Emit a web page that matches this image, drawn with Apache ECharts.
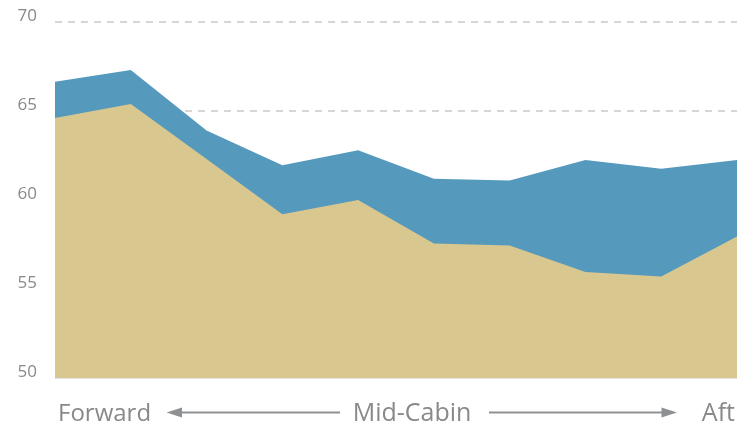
<!DOCTYPE html>
<html>
<head>
<meta charset="utf-8">
<script src="https://cdn.jsdelivr.net/npm/echarts@6/dist/echarts.min.js"></script>
<style>
html,body{margin:0;padding:0;background:#fff;}
#chart{width:747px;height:433px;}
</style>
</head>
<body>
<div id="chart"></div>
<script>
var positions = ['1','2','3','4','5','6','7','8','9','10'];
var upperValues = [66.65, 67.3, 63.9, 61.95, 62.8, 61.2, 61.1, 62.25, 61.75, 62.25];
var lowerValues = [64.6, 65.4, 62.3, 59.2, 60.0, 57.55, 57.45, 55.95, 55.7, 57.95];
var yTicks = [50, 55, 60, 65, 70];
var axisLabels = ['Forward', 'Mid-Cabin', 'Aft'];

var chart = echarts.init(document.getElementById('chart'), null, {renderer: 'canvas'});
var textColor = '#898989';
var arrowColor = '#8e9194';
var fontFamily = '"Open Sans", sans-serif';

chart.setOption({
  animation: false,
  backgroundColor: '#fff',
  grid: {left: 55, right: 10, top: 22, bottom: 55, containLabel: false},
  xAxis: {
    type: 'category',
    data: positions,
    boundaryGap: false,
    axisLine: {show: true, lineStyle: {color: '#e2e2e2', width: 1}},
    axisTick: {show: false},
    axisLabel: {show: false},
    splitLine: {show: false}
  },
  yAxis: {
    type: 'value',
    min: yTicks[0],
    max: yTicks[yTicks.length - 1],
    interval: 5,
    axisLine: {show: false},
    axisTick: {show: false},
    axisLabel: {color: textColor, fontSize: 17, fontFamily: fontFamily, margin: 18, verticalAlign: 'bottom', lineHeight: 12},
    splitLine: {show: true, lineStyle: {color: '#c9c9c9', width: 1.6, type: [7, 6]}}
  },
  series: [
    {
      type: 'line',
      data: upperValues,
      showSymbol: false,
      symbol: 'none',
      lineStyle: {width: 0},
      areaStyle: {color: '#5599bd', opacity: 1, origin: 'start'},
      z: 2
    },
    {
      type: 'line',
      data: lowerValues,
      showSymbol: false,
      symbol: 'none',
      lineStyle: {width: 0},
      areaStyle: {color: '#d9c790', opacity: 1, origin: 'start'},
      z: 3
    }
  ],
  graphic: [
    {type: 'text', x: 58, y: 414, style: {text: axisLabels[0], fill: textColor, fontSize: 24, fontFamily: fontFamily, textAlign: 'left', textVerticalAlign: 'middle'}},
    {type: 'text', x: 412, y: 414, style: {text: axisLabels[1], fill: textColor, fontSize: 25, fontFamily: fontFamily, textAlign: 'center', textVerticalAlign: 'middle'}},
    {type: 'text', x: 735, y: 414, style: {text: axisLabels[2], fill: textColor, fontSize: 25, fontFamily: fontFamily, textAlign: 'right', textVerticalAlign: 'middle'}},
    {type: 'line', shape: {x1: 178, y1: 412.5, x2: 340, y2: 412.5}, style: {stroke: arrowColor, lineWidth: 2.2}},
    {type: 'polygon', shape: {points: [[166.5, 412.5], [182, 407.5], [182, 417.5]]}, style: {fill: arrowColor}},
    {type: 'line', shape: {x1: 489, y1: 412.5, x2: 665, y2: 412.5}, style: {stroke: arrowColor, lineWidth: 2.2}},
    {type: 'polygon', shape: {points: [[677, 412.5], [661.5, 407.5], [661.5, 417.5]]}, style: {fill: arrowColor}}
  ]
});
</script>
</body>
</html>
